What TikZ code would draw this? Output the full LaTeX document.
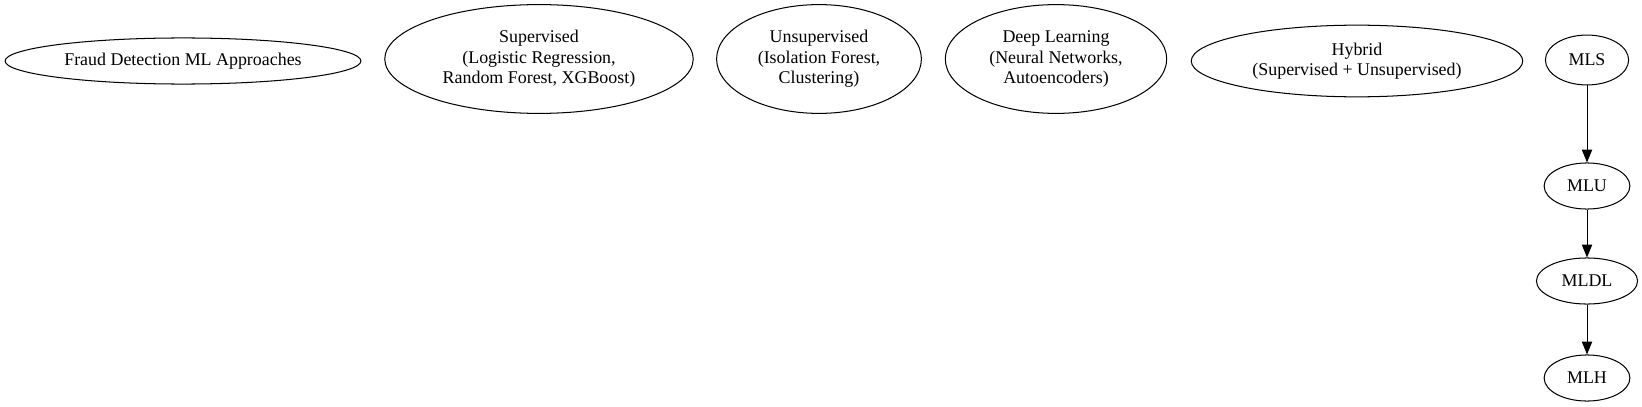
\documentclass[tikz,border=0pt]{standalone}
\usepackage{fontspec}
\setmainfont{Liberation Serif}
\usetikzlibrary{shapes.geometric, arrows.meta}

\begin{document}
\begin{tikzpicture}[
	x=0.78125pt, y=-0.78125pt,
	approach/.style={draw, ellipse, inner sep=0pt, align=center, font=\fontsize{14}{16}\selectfont, line width=0.8pt},
	flow/.style={draw, line width=0.8pt, -{Triangle[length=10pt, width=8pt]}},
	]
	\useasboundingbox (0,0) rectangle (1642,407);
	
	%% -- top row: the approaches ---------------------------------------------
	\node[approach, minimum width=278pt, minimum height=36pt] (fraud) at (183,61) {Fraud Detection ML Approaches};
	\node[approach, minimum width=241pt, minimum height=85pt] (sup)   at (539,59) {Supervised\\(Logistic Regression,\\Random Forest, XGBoost)};
	\node[approach, minimum width=160pt, minimum height=85pt] (unsup) at (819,59) {Unsupervised\\(Isolation Forest,\\Clustering)};
	\node[approach, minimum width=173pt, minimum height=85pt] (deep)  at (1056,59) {Deep Learning\\(Neural Networks,\\Autoencoders)};
	\node[approach, minimum width=259pt, minimum height=56pt] (hyb)   at (1357,61) {Hybrid\\(Supervised + Unsupervised)};
	
	%% -- right column: the chain ---------------------------------------------
	\node[approach, minimum width=65pt, minimum height=39pt] (mls)  at (1587,60)  {MLS};
	\node[approach, minimum width=67pt, minimum height=36pt] (mlu)  at (1587,186) {MLU};
	\node[approach, minimum width=79pt, minimum height=36pt] (mldl) at (1587,281) {MLDL};
	\node[approach, minimum width=67pt, minimum height=36pt] (mlh)  at (1587,378) {MLH};
	
	\draw[flow] (mls) -- (mlu);
	\draw[flow] (mlu) -- (mldl);
	\draw[flow] (mldl) -- (mlh);
	
\end{tikzpicture}
\end{document}
